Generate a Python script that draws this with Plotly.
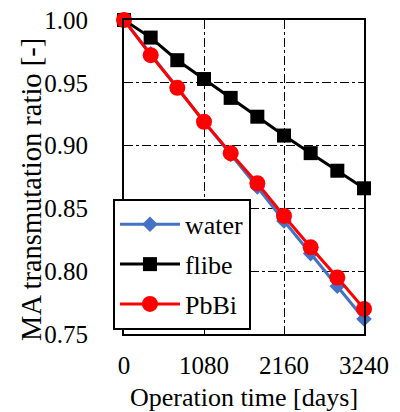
import plotly.graph_objects as go

days = [0, 360, 720, 1080, 1440, 1800, 2160, 2520, 2880, 3240]
water = [1.000, 0.973, 0.946, 0.919, 0.893, 0.867, 0.840, 0.814, 0.788, 0.762]
flibe = [1.000, 0.986, 0.968, 0.953, 0.938, 0.923, 0.908, 0.894, 0.880, 0.866]
pbbi = [1.000, 0.972, 0.946, 0.919, 0.894, 0.870, 0.844, 0.819, 0.795, 0.770]
x_ticks = [0, 1080, 2160, 3240]
y_ticks = [0.75, 0.80, 0.85, 0.90, 0.95, 1.00]

font = "Liberation Serif"

fig = go.Figure()
fig.add_trace(go.Scatter(x=days, y=water, name="water", mode="lines+markers",
                         legendgroup="a",
                         line=dict(color="#4472C4", width=3),
                         marker=dict(symbol="diamond", size=12, color="#4472C4"),
                         cliponaxis=False))
fig.add_trace(go.Scatter(x=days, y=flibe, name="flibe", mode="lines+markers",
                         legendgroup="b",
                         line=dict(color="black", width=3),
                         marker=dict(symbol="square", size=14, color="black"),
                         cliponaxis=False))
fig.add_trace(go.Scatter(x=days, y=pbbi, name="PbBi", mode="lines+markers",
                         legendgroup="c",
                         line=dict(color="#FF0000", width=3),
                         marker=dict(symbol="circle", size=16, color="#FF0000"),
                         cliponaxis=False))

# page body has an 8px margin, so the figure is offset by 8px in the window
fig.update_layout(
    width=392, height=404,
    margin=dict(l=116, r=36, t=12, b=78),
    paper_bgcolor="white", plot_bgcolor="white",
    font=dict(family=font, size=25, color="black"),
    showlegend=True,
    legend=dict(x=-0.046, y=0.013, xanchor="left", yanchor="bottom",
                bgcolor="white", bordercolor="black", borderwidth=2,
                font=dict(size=26), tracegroupgap=3, itemwidth=60,
                traceorder="grouped"),
    annotations=[dict(text="MA transmutation ratio [-]", textangle=-90,
                      xref="paper", yref="paper", x=-0.383, y=0.459,
                      xanchor="center", yanchor="middle", showarrow=False,
                      font=dict(size=28.5))],
)
fig.update_xaxes(range=[0, 3240], tickvals=x_ticks, ticktext=[str(v) for v in x_ticks],
                 showgrid=True, gridcolor="black", griddash="dashdot", gridwidth=1,
                 showline=True, linecolor="black", linewidth=2, mirror=True,
                 zeroline=False, ticks="", ticklabelstandoff=8, automargin=False,
                 ticklabeloverflow="allow",
                 title=dict(text="Operation time [days]", standoff=11, font=dict(size=26)))
fig.update_yaxes(range=[0.75, 1.00], tickvals=y_ticks, ticktext=[f"{v:.2f}" for v in y_ticks],
                 showgrid=True, gridcolor="black", griddash="dashdot", gridwidth=1,
                 showline=True, linecolor="black", linewidth=2, mirror=True,
                 zeroline=False, ticks="", ticklabelstandoff=29, automargin=False,
                 ticklabeloverflow="allow")

fig.write_html("out.html")
